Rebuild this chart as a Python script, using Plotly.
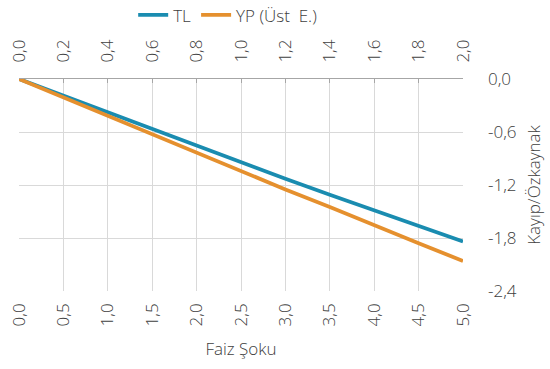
import plotly.graph_objects as go

# Interest-rate shock (percentage points) and loss/equity ratios
shock_tl = [0.0, 0.5, 1.0, 1.5, 2.0, 2.5, 3.0, 3.5, 4.0, 4.5, 5.0]
loss_tl = [0.0, -0.19, -0.38, -0.57, -0.76, -0.95, -1.13, -1.31, -1.49, -1.67, -1.84]

shock_yp = [0.0, 0.2, 0.4, 0.6, 0.8, 1.0, 1.2, 1.4, 1.6, 1.8, 2.0]
loss_yp = [0.0, -0.21, -0.42, -0.63, -0.84, -1.05, -1.25, -1.45, -1.66, -1.86, -2.06]

bottom_ticks = [0.0, 0.5, 1.0, 1.5, 2.0, 2.5, 3.0, 3.5, 4.0, 4.5, 5.0]
top_ticks = [0.0, 0.2, 0.4, 0.6, 0.8, 1.0, 1.2, 1.4, 1.6, 1.8, 2.0]
y_ticks = [0.0, -0.6, -1.2, -1.8, -2.4]


def tr_label(v):
    # Turkish decimal comma with a plain hyphen for negatives
    return f"{v:.1f}".replace(".", ",")


TEXT = "#404040"
GRID = "#D9D9D9"
FONT = "Open Sans, Lato, sans-serif"
FS = 17
tick_font = dict(family=FONT, size=FS, color=TEXT, weight=300)

fig = go.Figure()
fig.add_trace(go.Scatter(
    x=shock_tl, y=loss_tl, name="TL", mode="lines",
    line=dict(color="#1A8CB0", width=3.8), xaxis="x", yaxis="y",
))
fig.add_trace(go.Scatter(
    x=shock_yp, y=loss_yp, name="YP (Üst  E.)", mode="lines",
    line=dict(color="#E5902E", width=3.8), xaxis="x2", yaxis="y",
))

fig.update_layout(
    width=550, height=369,
    margin=dict(l=19, r=87, t=79, b=78, autoexpand=False),
    paper_bgcolor="white", plot_bgcolor="white",
    font=dict(family=FONT, size=FS, color=TEXT, weight=300),
    showlegend=True,
    legend=dict(
        orientation="h", x=0.47, xanchor="center", y=1.30, yanchor="middle",
        font=tick_font, bgcolor="rgba(0,0,0,0)",
        traceorder="normal",
    ),
    xaxis=dict(
        range=[0, 5], tickvals=bottom_ticks, ticktext=[tr_label(v) for v in bottom_ticks],
        tickangle=-90,
        showgrid=True, gridcolor=GRID, gridwidth=1, zeroline=False,
        showline=False, ticks="", automargin=False, ticklabelstandoff=8,
        title=dict(text="Faiz Şoku", font=tick_font, standoff=17),
        tickfont=tick_font,
    ),
    xaxis2=dict(
        range=[0, 2], tickvals=top_ticks, ticktext=[tr_label(v) for v in top_ticks],
        tickangle=-90,
        overlaying="x", side="top", anchor="y",
        showgrid=False, zeroline=False, automargin=False,
        showline=True, linecolor="#A6A6A6", linewidth=1,
        ticks="inside", ticklen=4, tickcolor="#A6A6A6", ticklabelstandoff=12,
        tickfont=tick_font,
    ),
    yaxis=dict(
        range=[-2.4, 0], tickvals=y_ticks, ticktext=[tr_label(v) for v in y_ticks],
        side="right",
        showgrid=True, gridcolor=GRID, gridwidth=1, zeroline=False,
        showline=False, ticks="", ticklabelstandoff=24, automargin=False,
        title=dict(text="Kayıp/Özkaynak", font=tick_font, standoff=12),
        tickfont=tick_font,
    ),
)

fig.write_html("out.html")
